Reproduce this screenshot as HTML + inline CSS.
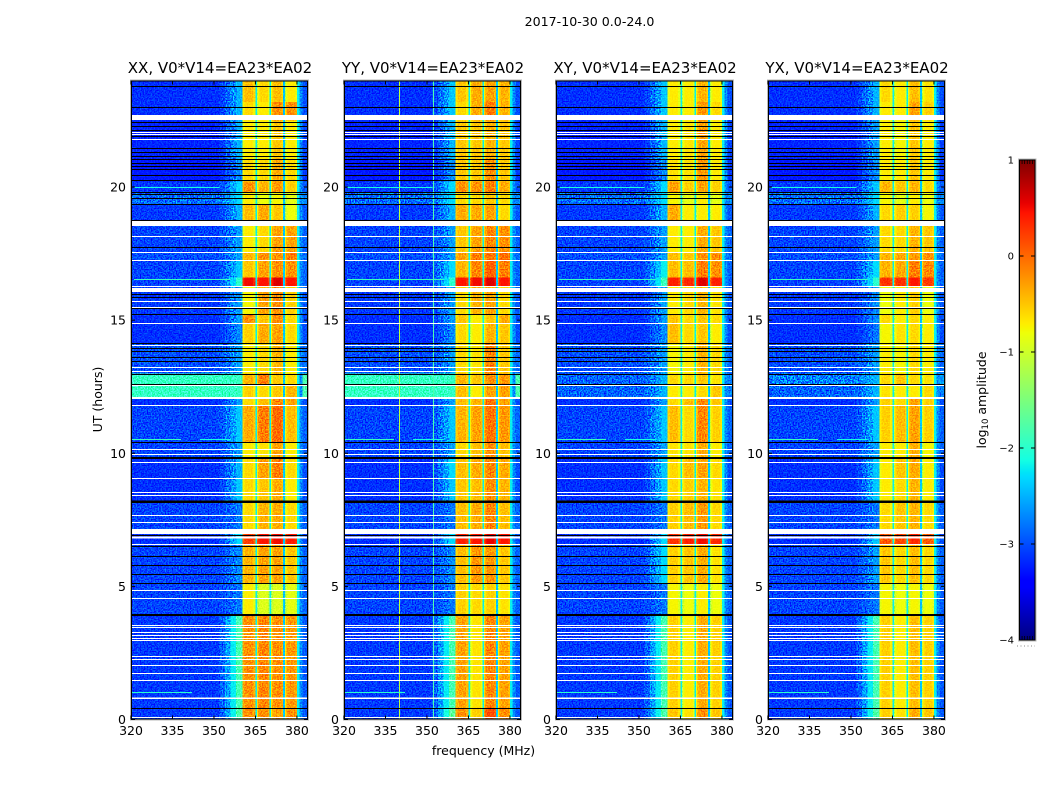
<!DOCTYPE html>
<html lang="en">
<head>
<meta charset="utf-8">
<title>2017-10-30 0.0-24.0</title>
<style>
html,body{margin:0;padding:0;background:#fff;width:1050px;height:800px;overflow:hidden}
svg{display:block;font-family:"DejaVu Sans","Liberation Sans",sans-serif;fill:#000}
.cell{shape-rendering:crispEdges}
</style>
</head>
<body>
<svg id="chart" xmlns="http://www.w3.org/2000/svg" width="1050" height="800" viewBox="0 0 1050 800">
<defs>
<filter id="speckle" x="0" y="0" width="1" height="1" color-interpolation-filters="sRGB">
<feTurbulence type="fractalNoise" baseFrequency="0.72" numOctaves="1" seed="4"/>
<feColorMatrix type="matrix" values="3 0 0 0 -1  3 0 0 0 -1  3 0 0 0 -1  0 0 0 0 1"/>
</filter>
</defs>
<rect x="0" y="0" width="1050" height="800" fill="#fff"/>
<text x="589.5" y="26" font-size="12.6" text-anchor="middle">2017-10-30 0.0-24.0</text>
<text x="483.5" y="755" font-size="12.5" text-anchor="middle">frequency (MHz)</text>
<text x="0" y="0" font-size="12.5" text-anchor="middle" transform="translate(102 399.5) rotate(-90)">UT (hours)</text>
<text x="0" y="0" font-size="12.5" text-anchor="middle" transform="translate(986 400) rotate(-90)">log<tspan font-size="8.5" dy="2">10</tspan><tspan dy="-2"> amplitude</tspan></text>
</svg>
<script>
// ---- shared axes ----
const panelTitles = ['XX, V0*V14=EA23*EA02','YY, V0*V14=EA23*EA02','XY, V0*V14=EA23*EA02','YX, V0*V14=EA23*EA02'];
const freqTicks = [320,335,350,365,380];
const hourTicks = [0,5,10,15,20];
const colorbarTicks = [1,0,-1,-2,-3,-4];

// ---- frequency columns (MHz) ----
// source: 0 background, 2-5 band index (value is an offset); -1 fixed level; -2 roll-off (value is the background-to-roll-off share)
const columnEdges = [320,352,354,356,358,360.4,361,364.2,365,365.6,366,366.5,369.5,370,370.6,371,371.5,374.5,375,375.6,376,376.5,379.5,380,381,382,384];
const columnSource = [0,-2,-2,-2,-2,2,2,2,-1,3,3,3,3,-1,4,4,4,4,-1,5,5,5,5,-1,-1,0];
const columnValue = [0,.15,.4,.7,1,-.15,0,-.15,-2.2,-.45,-.15,0,-.15,-2.2,-.45,-.15,0,-.15,-2.4,-.45,-.15,0,-.15,-2.2,-2.7,.15];

// ---- time rows (UT hours) ----
const rowEdges = [24,23.2,22.5,21.05,20.2,19.8,19.35,18.6,17.55,17.25,16.6,16.25,15.2,14.9,14.15,13,12.55,12.1,11.8,10.4,9.8,9.06,8.2,7,6.55,5.1,3.95,.45,0];

// ---- log10 amplitude per row: [background, roll-off, band1, band2, band3, band4] ----
const xxLevels = [
[-3.15,-2.5,-.45,-.6,-.45,-.7],[-3.15,-2.5,-.6,-.7,-.2,-.2],[-3.2,-2.5,-.7,-.7,-.5,-.7],[-3.25,-2.7,-.6,-.6,-.35,-.6],
[-3.1,-2.3,-.2,-.4,-.25,-.55],[-2.85,-2.3,-.7,-.8,-.75,-.85],[-3.1,-2.5,-.45,-.35,-.5,-.8],[-3.05,-2.6,-.7,-.6,-.3,-.3],
[-3,-2.6,-.4,-.2,-.2,-.1],[-3.05,-2.4,-.5,-.3,-.2,-.2],[-3.05,-2,.5,.45,.6,.45],[-3.1,-2.6,-.75,-.3,-.2,-.55],
[-3.15,-2.6,-.2,-.5,-.2,-.6],[-3.15,-2.7,-.55,-.35,-.3,-.6],[-3,-2.6,-.7,-.6,-.4,-.7],[-1.95,-1.95,-.4,-.1,-.5,-.6],
[-1.95,-1.95,-.55,-.6,-.5,-.4],[-3.15,-2.6,-.6,-.45,-.15,-.3],[-3.05,-2.4,-.35,-.1,0,-.45],[-3.05,-2.6,-.7,-.65,-.3,-.7],
[-3.15,-2.5,-.6,-.3,-.1,-.6],[-3.15,-2.4,-.6,-.5,-.35,-.7],[-3.05,-2.8,-.6,-.4,-.35,-.6],[-3.15,-2.3,.25,.45,.5,.4],
[-3.05,-2.7,-.4,-.3,-.3,-.5],[-3.05,-2.8,-.7,-.9,-.9,-.85],[-3.1,-1.85,-.2,-.15,-.2,-.25],[-3.1,-1.8,-.2,-.2,-.3,-.2]];
const yyLevels = [
[-3.15,-2.4,-.5,-.35,-.3,-.4],[-3.15,-2.4,-.6,-.35,-.1,-.4],[-3.2,-2.5,-.5,-.5,-.4,-.5],[-3.25,-2.7,-.5,-.5,-.2,-.5],
[-3.1,-2.3,-.2,-.2,-.1,-.35],[-2.85,-2.3,-.6,-.6,-.5,-.6],[-3.1,-2.5,-.35,-.35,-.3,-.6],[-3.05,-2.6,-.5,-.3,-.15,-.2],
[-3,-2.6,-.3,-.1,-.05,0],[-3.05,-2.3,-.4,-.15,.05,-.1],[-3.05,-2,.45,.5,.6,.45],[-3.1,-2.6,-.6,-.4,-.3,-.6],
[-3.15,-2.6,-.5,-.7,-.5,-.35],[-3.15,-2.7,-.6,-.7,-.4,-.5],[-3,-2.6,-.6,-.65,-.15,-.5],[-1.95,-1.95,-.4,-.5,-.2,-.25],
[-1.95,-1.95,-.45,-.7,-.3,-.3],[-3.15,-2.6,-.45,-.4,-.05,-.3],[-3.05,-2.4,-.4,-.3,-.05,-.25],[-3.05,-2.6,-.6,-.45,-.2,-.45],
[-3.15,-2.3,-.45,-.35,-.15,-.35],[-3.15,-2.4,-.5,-.45,-.2,-.4],[-3.05,-2.8,-.45,-.35,-.15,-.45],[-3.15,-2.3,.4,.45,.55,.45],
[-3.05,-2.7,-.45,-.25,-.25,-.5],[-3.05,-2.8,-.55,-.6,-.55,-.65],[-3.1,-1.85,-.3,-.65,-.15,-.3],[-3.1,-1.7,-.2,-.55,.15,-.2]];
const xyLevels = [
[-3.15,-2.4,-.7,-.7,-.4,-.7],[-3.15,-2.4,-.7,-.7,-.25,-.6],[-3.2,-2.5,-.7,-.65,-.3,-.7],[-3.25,-2.7,-.65,-.65,-.25,-.7],
[-3.1,-2.3,-.3,-.55,-.3,-.55],[-2.85,-2.3,-.75,-.85,-.7,-.85],[-3.1,-2.5,-.35,-.7,-.7,-.7],[-3.05,-2.6,-.7,-.7,-.35,-.5],
[-3,-2.6,-.45,-.5,-.2,-.2],[-3.05,-2.2,-.45,-.45,-.1,-.2],[-3.05,-1.9,.4,.35,.6,.4],[-3.1,-2.6,-.7,-.6,-.4,-.65],
[-3.15,-2.6,-.5,-.6,-.5,-.6],[-3.15,-2.7,-.45,-.6,-.5,-.7],[-3,-2.6,-.75,-.7,-.4,-.6],[-2.9,-2.5,-.6,-.6,-.5,-.65],
[-2.9,-2.5,-.7,-.7,-.6,-.5],[-3.15,-2.6,-.6,-.45,-.15,-.5],[-3.05,-2.4,-.45,-.6,-.15,-.55],[-3.05,-2.6,-.65,-.65,-.35,-.7],
[-3.15,-2.4,-.6,-.45,-.3,-.6],[-3.15,-2.4,-.6,-.55,-.4,-.65],[-3.05,-2.8,-.55,-.45,-.25,-.6],[-3.15,-2.3,.3,.4,.5,.35],
[-3.05,-2.3,-.55,-.5,-.35,-.65],[-3.05,-2.8,-.75,-.8,-.7,-.8],[-3.1,-1.85,-.55,-.7,-.35,-.55],[-3.1,-1.8,-.5,-.65,-.2,-.5]];
const yxLevels = [
[-3.15,-2.5,-.6,-.7,-.45,-.65],[-3.15,-2.5,-.7,-.7,-.3,-.55],[-3.2,-2.6,-.7,-.75,-.5,-.7],[-3.25,-2.7,-.7,-.7,-.5,-.7],
[-3.1,-2.4,-.4,-.5,-.4,-.6],[-2.85,-2.3,-.75,-.85,-.7,-.8],[-3.1,-2.5,-.6,-.55,-.55,-.75],[-3.05,-2.6,-.6,-.6,-.4,-.5],
[-3,-2.6,-.4,-.35,-.25,-.2],[-3.05,-2.3,-.4,-.35,-.1,-.15],[-3.05,-2,.3,.3,.45,.25],[-3.1,-2.7,-.8,-.7,-.55,-.8],
[-3.15,-2.7,-.6,-.7,-.6,-.7],[-3.15,-2.8,-.75,-.65,-.6,-.7],[-3,-2.6,-.7,-.75,-.6,-.7],[-2.75,-2.5,-.6,-.5,-.6,-.65],
[-2.9,-2.5,-.65,-.7,-.7,-.6],[-3.15,-2.6,-.55,-.6,-.3,-.55],[-3.05,-2.4,-.55,-.45,-.3,-.55],[-3.05,-2.6,-.7,-.7,-.35,-.75],
[-3.15,-2.4,-.7,-.5,-.35,-.7],[-3.15,-2.4,-.7,-.6,-.4,-.7],[-3.05,-2.8,-.6,-.5,-.4,-.6],[-3.15,-2.4,.1,.2,.35,.1],
[-3.05,-2.6,-.5,-.6,-.45,-.6],[-3.05,-2.8,-.75,-.8,-.75,-.8],[-3.1,-1.85,-.55,-.7,-.45,-.55],[-3.1,-1.8,-.55,-.65,-.35,-.5]];
const panelLevels = [xxLevels,yyLevels,xyLevels,yxLevels];

// ---- flagged data ----
const blankBands = [[22.52,22.70],[18.54,18.72],[16.05,16.21],[12.04,12.12],[6.97,7.15],[6.80,6.88],[0.77,0.83]];
const blankHours = [22.04,21.96,21.79,19.55,18.15,17.55,17.25,16.26,15.71,15.48,14.88,14.04,13.23,13.08,12.54,11.80,10.15,9.96,9.65,9.06,8.52,8.42,7.65,7.41,6.57,4.84,4.55,3.54,3.45,3.26,3.16,3.05,2.95,2.38,2.25,2.02,1.74,1.47,0.09];
const zeroBands = [[9.78,9.86],[8.13,8.23],[3.89,3.97]];
const zeroHours = [23.78,22.99,22.44,22.29,22.14,21.89,21.45,21.30,21.15,21.03,20.90,20.76,20.64,20.45,20.26,19.80,19.70,19.58,19.36,18.75,17.72,15.95,15.86,15.43,15.22,14.13,13.92,13.84,13.59,13.43,12.97,12.59,10.41,6.92,6.48,6.13,5.78,5.45,5.12,0.43];

// ---- narrow-band interference: [hour, start MHz, end MHz, log10 amplitude] ----
const interferenceRows = [[20.0,321,352,-2.1],[16.51,321,356,-1.9],[10.51,320,338,-1.9],[10.51,345,356,-2.1],[1.03,320,342,-2.0]];
// ---- YY persistent channels: [MHz, log10 amplitude] ----
const yyChannels = [[340,-1.1],[352,-1.8]];

// ---- axis functions ----
const panelLefts = [131,344,556,768];
const plotWidth = 177, plotTop = 80.5, plotBottom = 719.5;
const freqMin = 320, freqMax = 384, hourMin = 0, hourMax = 24;
const barLeft = 1019.5, barWidth = 15.5, barTop = 160, barBottom = 640, logMin = -4, logMax = 1;
const xScale = (p,f) => panelLefts[p] + (f-freqMin)/(freqMax-freqMin)*plotWidth;
const yScale = h => plotBottom - (h-hourMin)/(hourMax-hourMin)*(plotBottom-plotTop);
const barScale = v => barBottom - (v-logMin)/(logMax-logMin)*(barBottom-barTop);

function jet(v){
  const t = Math.max(0,Math.min(1,(v-logMin)/(logMax-logMin)));
  const ch = c => Math.round(255*Math.max(0,Math.min(1,c)));
  const r = t<.35?0:t<.66?(t-.35)/.31:t<.89?1:1-(t-.89)/.11*.5;
  const g = t<.125?0:t<.375?(t-.125)/.25:t<.64?1:t<.91?1-(t-.64)/.27:0;
  const b = t<.11?.5+t/.11*.5:t<.34?1:t<.65?1-(t-.34)/.31:0;
  return `rgb(${ch(r)},${ch(g)},${ch(b)})`;
}

const svg = document.getElementById('chart');
const NS = 'http://www.w3.org/2000/svg';
function make(tag,attrs,parent,txt){
  const el = document.createElementNS(NS,tag);
  for(const k in attrs) el.setAttribute(k,attrs[k]);
  if(txt!==undefined) el.textContent = txt;
  (parent||svg).appendChild(el);
  return el;
}
function band(p,g,hTop,hBot,fill){
  return make('rect',{class:'cell',x:xScale(p,freqMin),y:yScale(hTop),width:plotWidth,height:yScale(hBot)-yScale(hTop),fill:fill},g);
}
function oneLine(p,g,h,fill){
  const y = Math.round(yScale(h)-.5);
  return make('rect',{class:'cell',x:xScale(p,freqMin),y:y,width:plotWidth,height:1,fill:fill},g);
}

panelLevels.forEach((levels,p)=>{
  const g = make('g',{});
  
  

  levels.forEach((row,r)=>{
    for(let c=0;c<columnSource.length;c++){
      const src = columnSource[c];
      let v;
      if(src===-1) v = columnValue[c];
      else if(src===-2) v = row[0]+(row[1]-row[0])*columnValue[c];
      else v = row[src]+columnValue[c];
      const x0 = xScale(p,columnEdges[c]), x1 = xScale(p,columnEdges[c+1]);
      const y0 = yScale(rowEdges[r]), y1 = yScale(rowEdges[r+1]);
      const cell = make('rect',{class:'cell',x:x0,y:y0,width:x1-x0,height:y1-y0,fill:jet(v)},g);
      
      
    }
  });

  const speckleA = make('rect',{x:xScale(p,freqMin),y:plotTop,width:xScale(p,358)-xScale(p,freqMin),height:plotBottom-plotTop,filter:'url(#speckle)',style:'mix-blend-mode:overlay'},g);
  
  
  const speckleB = make('rect',{x:xScale(p,358),y:plotTop,width:xScale(p,freqMax)-xScale(p,358),height:plotBottom-plotTop,filter:'url(#speckle)',style:'mix-blend-mode:overlay',opacity:.5},g);
  
  

  if(p===1){
    yyChannels.forEach(ch=>{
      const line = make('rect',{class:'cell',x:Math.round(xScale(p,ch[0])),y:plotTop,width:1,height:plotBottom-plotTop,fill:jet(ch[1])},g);
      
      
    });
  }
  interferenceRows.forEach(rw=>{
    const x0 = xScale(p,rw[1]), x1 = xScale(p,rw[2]);
    const line = make('rect',{class:'cell',x:x0,y:Math.round(yScale(rw[0])-.5),width:x1-x0,height:1,fill:jet(rw[3])},g);
    
    
  });

  blankBands.forEach(b=>{
    const el = band(p,g,b[1],b[0],'#fff');
    
    
  });
  blankHours.forEach(h=>{
    const el = oneLine(p,g,h,'#fff');
    
    
  });
  zeroBands.forEach(b=>{
    const el = band(p,g,b[1],b[0],'#000');
    
    
  });
  zeroHours.forEach(h=>{
    const el = oneLine(p,g,h,'#000');
    
    
  });

  const halo = make('rect',{x:xScale(p,freqMin)-.5,y:plotTop-.5,width:plotWidth+1,height:plotBottom-plotTop+1,fill:'none',stroke:'#b8b8b8','stroke-width':1},g);
  
  
  const frame = make('rect',{x:xScale(p,freqMin)+.5,y:plotTop+.5,width:plotWidth-1,height:plotBottom-plotTop-1,fill:'none',stroke:'#000','stroke-width':1},g);
  
  

  const title = make('text',{x:xScale(p,freqMin)+plotWidth/2+.5,y:73,'font-size':15,'text-anchor':'middle'},g,panelTitles[p]);
  
  

  freqTicks.forEach(f=>{
    const x = xScale(p,f);
    const bt = make('line',{x1:x,x2:x,y1:plotBottom,y2:plotBottom-4,stroke:'#000'},g);
    
    
    const tt = make('line',{x1:x,x2:x,y1:plotTop,y2:plotTop+4,stroke:'#000'},g);
    
    
    const lab = make('text',{x:x,y:735,'font-size':12.5,'text-anchor':'middle'},g,String(f));
    
    
  });
  hourTicks.forEach(h=>{
    const y = yScale(h);
    const lt = make('line',{x1:xScale(p,freqMin),x2:xScale(p,freqMin)+4,y1:y,y2:y,stroke:'#000'},g);
    
    
    const rt = make('line',{x1:xScale(p,freqMax),x2:xScale(p,freqMax)-4,y1:y,y2:y,stroke:'#000'},g);
    
    
    const lab = make('text',{x:xScale(p,freqMin)-5,y:y+4.5,'font-size':12.5,'text-anchor':'end'},g,String(h));
    
    
  });
});

// ---- colorbar ----
const cb = make('g',{});


for(let y=barTop;y<barBottom;y++){
  const v = logMin+(barBottom-y-.5)/(barBottom-barTop)*(logMax-logMin);
  const s = make('rect',{class:'cell',x:barLeft,y:y,width:barWidth,height:1,fill:jet(v)},cb);
  
  
}
const cbHalo = make('rect',{x:barLeft-1,y:barTop-1,width:barWidth+2,height:barBottom-barTop+2,fill:'none',stroke:'#bbb'},cb);


const cbFrame = make('rect',{x:barLeft,y:barTop,width:barWidth,height:barBottom-barTop,fill:'none',stroke:'#000'},cb);


colorbarTicks.forEach(v=>{
  const y = barScale(v);
  const l = make('line',{x1:barLeft,x2:barLeft+4,y1:y,y2:y,stroke:'#000'},cb);
  
  
  const r = make('line',{x1:barLeft+barWidth,x2:barLeft+barWidth-4,y1:y,y2:y,stroke:'#000'},cb);
  
  
  const lab = make('text',{x:1014,y:y+3.5,'font-size':10,'text-anchor':'end'},cb,String(v).replace('-','\u2212'));
  
  
});
for(let i=1;i<6;i++){
  const x = barLeft+i*barWidth/6;
  const topMinor = make('line',{x1:x,x2:x,y1:barTop,y2:barTop+4,stroke:'#000','stroke-width':.8},cb);
  
  
  const botMinor = make('line',{x1:x,x2:x,y1:barBottom,y2:barBottom-4,stroke:'#000','stroke-width':.8},cb);
  
  
}
const cbDots = make('line',{x1:1017,x2:1035,y1:646,y2:646,stroke:'#888','stroke-dasharray':'1 2.5'},cb);


</script>
</body>
</html>
